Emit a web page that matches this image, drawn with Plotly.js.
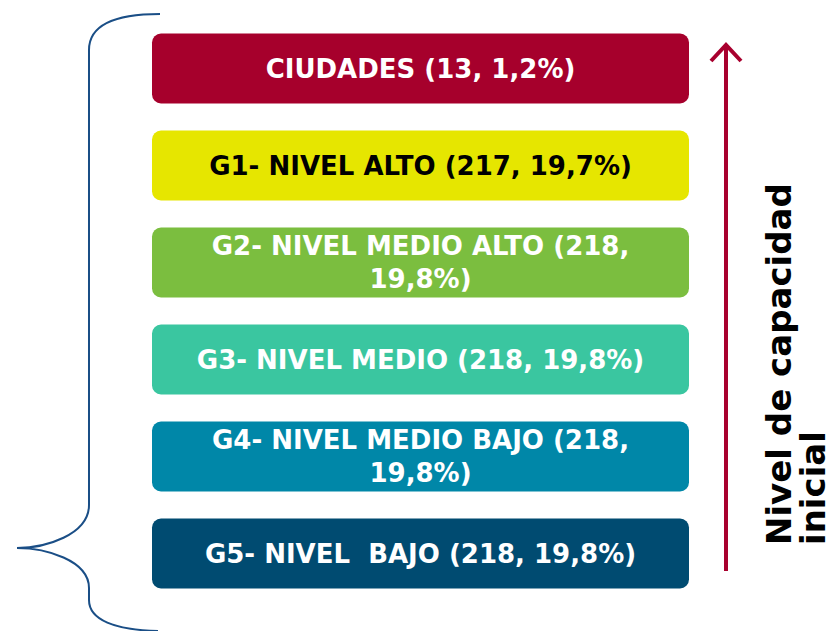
<!DOCTYPE html>
<html><head><meta charset="utf-8">
<script src="https://cdn.plot.ly/plotly-3.0.1.min.js"></script>
<style>html,body{margin:0;padding:0;background:#fff}#c{width:834px;height:631px}</style>
</head><body><div id="c"></div>
<script>
const groups = ['CIUDADES','G1- NIVEL ALTO','G2- NIVEL MEDIO ALTO','G3- NIVEL MEDIO','G4- NIVEL MEDIO BAJO','G5- NIVEL  BAJO'];
const counts = [13,217,218,218,218,218];
const pcts = ['1,2%','19,7%','19,8%','19,8%','19,8%','19,8%'];
const wrapLabel = [false,false,true,false,true,false];
const colors = ['#A6002C','#E6E600','#7BBE3F','#3AC6A0','#0087A8','#004B71'];
const textColors = ['#ffffff','#000000','#ffffff','#ffffff','#ffffff','#ffffff'];
const sideTitleLines = ['Nivel de capacidad','inicial'];

const W = 834, H = 631;
const labels = groups.map((g,i)=> g + ' (' + counts[i] + ',' + (wrapLabel[i] ? '<br>' : ' ') + pcts[i] + ')');

// pixel -> paper helper for decorative shapes
const P = (x,y)=> (x/W).toFixed(5)+','+(1-y/H).toFixed(5);

const bracePath = 'M '+P(160,14)+' C '+P(110,14)+' '+P(89,28)+' '+P(89,50)+
  ' L '+P(89,505)+' C '+P(89,535)+' '+P(45,548)+' '+P(17,548)+
  ' C '+P(45,548)+' '+P(89,560)+' '+P(89,588)+
  ' L '+P(89,600)+' C '+P(89,620)+' '+P(115,630)+' '+P(158,631);

const arrowShaft = 'M '+P(726,571)+' L '+P(726,46);
const arrowHead = 'M '+P(711,61)+' L '+P(726,45)+' L '+P(741,61);

const FONT = '"DejaVu Sans", Verdana, sans-serif';

const trace = {
  type:'bar', orientation:'h',
  y: groups, x: groups.map(()=>1), base: 0,
  text: labels, textposition:'inside', insidetextanchor:'middle', textangle:0,
  constraintext:'none',
  textfont:{family:FONT, size:26, color:textColors, weight:'bold'},
  marker:{color:colors, cornerradius:9, line:{width:0}},
  width:0.72, hoverinfo:'skip', showlegend:false
};

const layout = {
  width:W, height:H, margin:{l:0,r:0,t:0,b:0},
  paper_bgcolor:'#ffffff', plot_bgcolor:'#ffffff',
  xaxis:{range:[-152/537,(W-152)/537], visible:false, fixedrange:true},
  yaxis:{type:'category', categoryorder:'array', categoryarray:groups,
         range:[(H-68.5)/97, -68.5/97], visible:false, fixedrange:true},
  shapes:[
    {type:'path', xref:'paper', yref:'paper', path:bracePath, line:{color:'#1A4E86', width:2}},
    {type:'path', xref:'paper', yref:'paper', path:arrowShaft, line:{color:'#A8002E', width:4}},
    {type:'path', xref:'paper', yref:'paper', path:arrowHead, line:{color:'#A8002E', width:4}}
  ],
  annotations: sideTitleLines.map((t,i)=>({
     xref:'paper', yref:'paper', x:(779+i*34)/W, y:1-547/H, xanchor:'center', yanchor:'bottom',
     text:t, textangle:-90, showarrow:false,
     font:{family:FONT, size:34, color:'#000000', weight:'bold'}}))
};

Plotly.newPlot('c',[trace],layout,{displayModeBar:false, staticPlot:true});
</script></body></html>
